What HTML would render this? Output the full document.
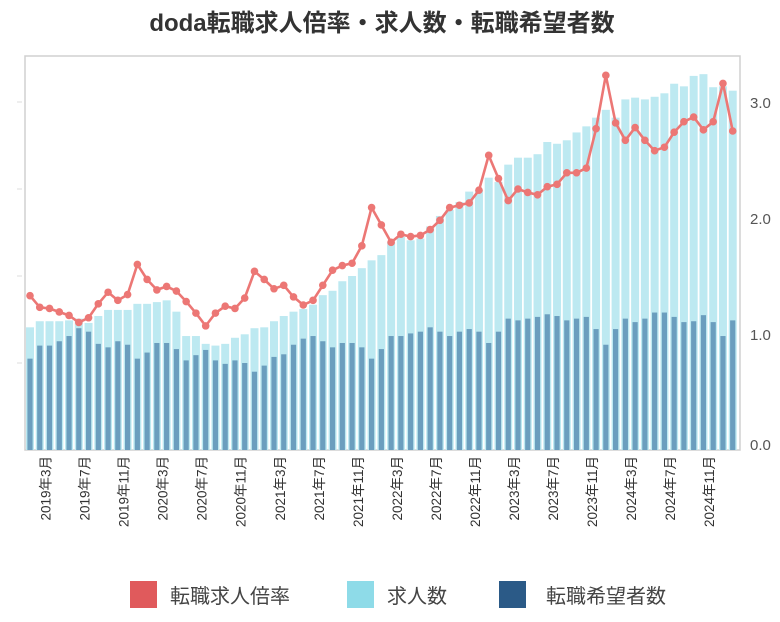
<!DOCTYPE html>
<html><head><meta charset="utf-8">
<style>
html,body{margin:0;padding:0;background:#fff;}
body{width:780px;height:617px;overflow:hidden;font-family:"Liberation Sans","Noto Sans CJK JP",sans-serif;}
</style></head>
<body>
<svg id="chart" width="780" height="617" viewBox="0 0 780 617" xmlns="http://www.w3.org/2000/svg" font-family="Liberation Sans, Noto Sans CJK JP, sans-serif">
<text x="382" y="31" text-anchor="middle" font-size="24" font-weight="bold" fill="#333">doda転職求人倍率・求人数・転職希望者数</text>
<rect x="25" y="56" width="715" height="394" fill="none" stroke="#d0d0d0" stroke-width="1.5"/>
<g id="bars"></g>
<g id="line"></g>
<g id="axes"></g>
<g>
<g><rect x="130" y="581" width="27" height="27" fill="#e05a5c"/><text x="170" y="603" font-size="20" fill="#444">転職求人倍率</text></g>
<g><rect x="347" y="581" width="27" height="27" fill="#8edbe8"/><text x="387" y="603" font-size="20" fill="#444">求人数</text></g>
<g><rect x="499" y="581" width="27" height="27" fill="#2b5a87"/><text x="546" y="603" font-size="20" fill="#444">転職希望者数</text></g>
</g>
</svg>
<script>
const startYear = 2019, startMonth = 1;
const ratio = [1.33,1.23,1.22,1.19,1.16,1.10,1.14,1.26,1.36,1.29,1.34,1.60,1.47,1.38,1.41,1.37,1.28,1.18,1.07,1.18,1.24,1.22,1.31,1.54,1.47,1.39,1.42,1.32,1.25,1.29,1.42,1.55,1.59,1.61,1.76,2.09,1.94,1.79,1.86,1.84,1.85,1.90,1.98,2.09,2.11,2.13,2.24,2.54,2.34,2.15,2.25,2.22,2.20,2.27,2.29,2.39,2.39,2.43,2.77,3.23,2.82,2.67,2.78,2.67,2.58,2.61,2.74,2.83,2.87,2.76,2.83,3.16,2.75];
const jobs = [1.41,1.48,1.48,1.48,1.49,1.51,1.46,1.54,1.61,1.61,1.61,1.68,1.68,1.70,1.72,1.59,1.31,1.31,1.22,1.20,1.22,1.29,1.33,1.40,1.41,1.48,1.54,1.59,1.62,1.67,1.78,1.83,1.94,2.00,2.09,2.18,2.24,2.39,2.45,2.41,2.43,2.57,2.69,2.76,2.85,2.97,2.99,3.13,3.08,3.28,3.36,3.36,3.40,3.54,3.52,3.56,3.65,3.72,3.82,3.91,3.82,4.03,4.05,4.03,4.06,4.10,4.21,4.18,4.30,4.32,4.17,4.18,4.13];
const seekers = [1.05,1.20,1.20,1.25,1.31,1.40,1.36,1.22,1.18,1.25,1.21,1.05,1.12,1.23,1.23,1.16,1.03,1.09,1.15,1.03,0.99,1.03,1.00,0.90,0.97,1.07,1.10,1.21,1.28,1.31,1.25,1.18,1.23,1.23,1.18,1.05,1.16,1.31,1.31,1.34,1.36,1.41,1.36,1.31,1.36,1.39,1.36,1.23,1.36,1.51,1.49,1.51,1.53,1.56,1.54,1.49,1.51,1.53,1.39,1.21,1.39,1.51,1.47,1.51,1.58,1.58,1.53,1.47,1.48,1.55,1.47,1.31,1.49];
const rightTicks = [0.0,1.0,2.0,3.0];
const leftTicks = [1,2,3,4];
const labelMonths = [3,7,11];

const NS = "http://www.w3.org/2000/svg";
const x0 = 30, step = 9.76, baseY = 450;
const xPos = i => x0 + step * i;
const yLeft = v => baseY - v * 87;
const yRight = v => baseY - v * 116;
function mk(tag, attrs, parent){const e=document.createElementNS(NS,tag);for(const k in attrs)e.setAttribute(k,attrs[k]);parent.appendChild(e);return e;}

const gb = document.getElementById('bars');
jobs.forEach((v,i)=>{
  const r = mk('rect',{x:xPos(i)-4,y:yLeft(v),width:8,height:baseY-yLeft(v),fill:'#bde9f1'},gb);
  
  
});
seekers.forEach((v,i)=>{
  const r = mk('rect',{x:xPos(i)-2.6,y:yLeft(v),width:5.2,height:baseY-yLeft(v),fill:'#6b9ebe'},gb);
  
  
});
const gl = document.getElementById('line');
const pts = ratio.map((v,i)=>xPos(i).toFixed(1)+','+yRight(v).toFixed(1)).join(' ');
const pl = mk('polyline',{points:pts,fill:'none',stroke:'#ec7775','stroke-width':2.6,'stroke-linejoin':'round'},gl);


ratio.forEach((v,i)=>{
  const c = mk('circle',{cx:xPos(i),cy:yRight(v),r:3.8,fill:'#ec7775'},gl);
  
  
});
const ga = document.getElementById('axes');
rightTicks.forEach(t=>{
  let y = yRight(t); if (y > 444) y = 444;
  const tx = mk('text',{x:750,y:y+6,'font-size':15,fill:'#555'},ga);
  tx.textContent = t.toFixed(1);
  
  
});
leftTicks.forEach(t=>{
  const ln = mk('line',{x1:17,x2:22,y1:yLeft(t),y2:yLeft(t),stroke:'#ddd','stroke-width':1},ga);
  
  
});
jobs.forEach((v,i)=>{
  const m = (startMonth - 1 + i) % 12 + 1;
  const yr = startYear + Math.floor((startMonth - 1 + i) / 12);
  if (!labelMonths.includes(m)) return;
  const x = xPos(i) - 4;
  const tx = mk('text',{x:0,y:0,'font-size':13.5,fill:'#333','text-anchor':'end',transform:`translate(${x+5},456) rotate(-90)`},ga);
  tx.textContent = yr + '年' + m + '月';
  
  
});
</script>
</body></html>
